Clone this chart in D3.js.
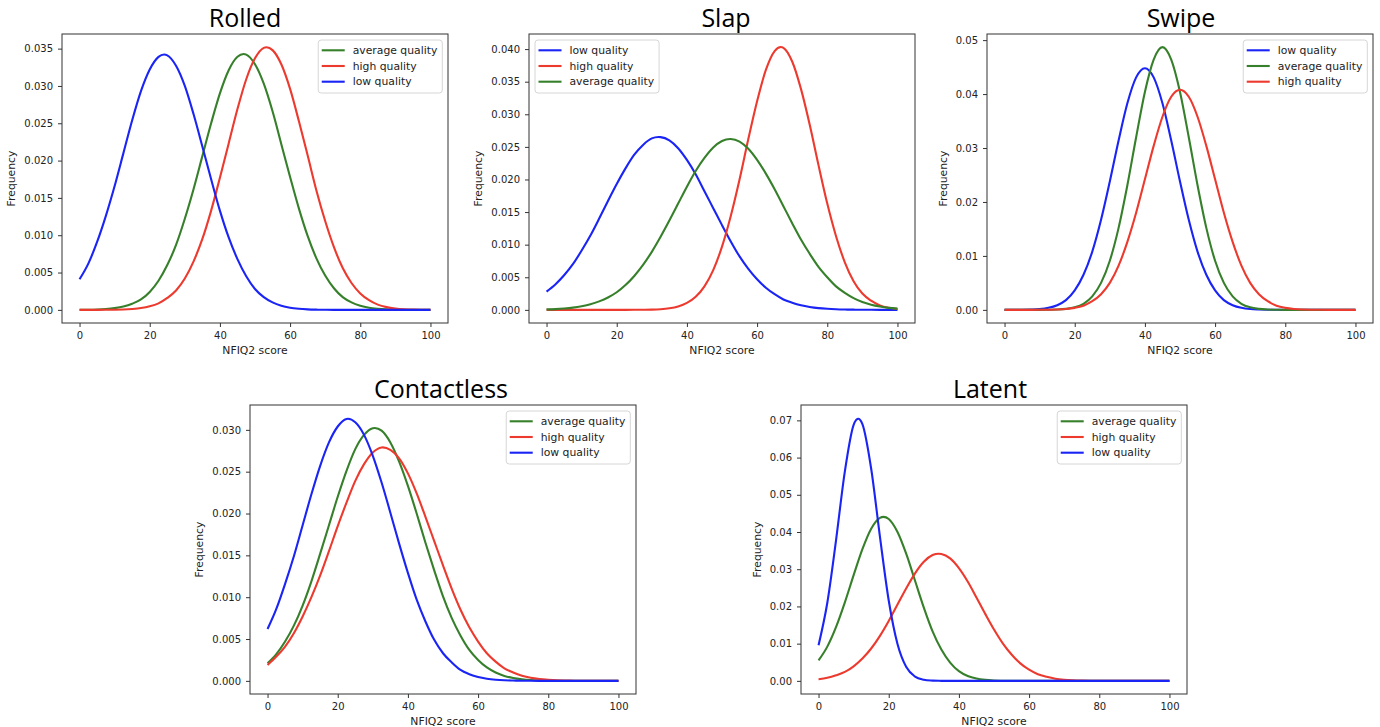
<!DOCTYPE html>
<html>
<head>
<meta charset="utf-8">
<script src="https://cdn.jsdelivr.net/npm/d3@7"></script>
<style>
  body { margin: 0; background: #fff; }
  svg text { font-family: "DejaVu Sans", sans-serif; fill: #222; }
</style>
</head>
<body>
<svg id="chart" width="1380" height="727"></svg>
<script>
// NFIQ2 score grid (x values shared by every curve)
var scores = [0,2.5,5,7.5,10,12.5,15,17.5,20,22.5,25,27.5,30,32.5,35,37.5,40,42.5,45,47.5,
  50,52.5,55,57.5,60,62.5,65,67.5,70,72.5,75,77.5,80,82.5,85,87.5,90,92.5,95,97.5,100];
var xTicks = [0, 20, 40, 60, 80, 100];

// frequency values, one array per curve
var rolledLow = [0.0041,0.0062,0.0091,0.0126,0.0166,0.0210,0.0254,0.0293,0.0322,0.0339,0.0341,0.0327,0.0300,0.0262,0.0219,0.0175,0.0133,0.0097,0.0068,0.0045,0.0028,0.0017,0.0010,0.00055,0.00029,0.00015,0.00007,0.00003,0.00001,0,0,0,0,0,0,0,0,0,0,0,0];
var rolledAverage = [0.00001,0.00002,0.00005,0.00011,0.00023,0.00044,0.00082,0.0014,0.0024,0.0039,0.0060,0.0087,0.0122,0.0162,0.0206,0.0250,0.0290,0.0321,0.0339,0.0342,0.0329,0.0303,0.0266,0.0222,0.0178,0.0136,0.0099,0.0069,0.0046,0.0029,0.0017,0.0010,0.00056,0.00029,0.00015,0.00007,0.00003,0.00001,0,0,0];
var rolledHigh = [0,0,0,0.00001,0.00002,0.00005,0.00012,0.00024,0.00047,0.00087,0.0016,0.0026,0.0042,0.0065,0.0095,0.0133,0.0177,0.0223,0.0269,0.0309,0.0337,0.0351,0.0348,0.0329,0.0296,0.0253,0.0207,0.0160,0.0119,0.0084,0.0056,0.0036,0.0022,0.0013,0.00070,0.00037,0.00019,0.00009,0.00004,0.00002,0.00001];

var slapLow = [0.0028,0.0039,0.0053,0.0070,0.0091,0.0114,0.0140,0.0167,0.0193,0.0217,0.0238,0.0253,0.0263,0.0265,0.0260,0.0248,0.0230,0.0208,0.0182,0.0156,0.0130,0.0105,0.0082,0.0063,0.0047,0.0034,0.0024,0.0016,0.0011,0.00071,0.00045,0.00027,0.00016,0.00009,0.00005,0.00003,0.00002,0.00001,0,0,0];
var slapAverage = [0.00007,0.00012,0.00021,0.00034,0.00055,0.00085,0.0013,0.0019,0.0027,0.0038,0.0052,0.0069,0.0089,0.0112,0.0137,0.0163,0.0189,0.0213,0.0233,0.0249,0.0259,0.0262,0.0258,0.0247,0.0230,0.0209,0.0185,0.0159,0.0133,0.0108,0.0086,0.0066,0.0050,0.0036,0.0026,0.0018,0.0012,0.00079,0.00051,0.00031,0.00019];
var slapHigh = [0,0,0,0,0,0,0,0,0,0,0.00001,0.00002,0.00004,0.00010,0.00024,0.00052,0.00106,0.0020,0.0036,0.0061,0.0097,0.0144,0.0200,0.0262,0.0320,0.0368,0.0397,0.0402,0.0381,0.0339,0.0284,0.0222,0.0163,0.0113,0.0073,0.0044,0.0025,0.0014,0.00068,0.00032,0.00014];

var swipeLow = [0,0.00001,0.00002,0.00006,0.00015,0.00038,0.00087,0.0018,0.0036,0.0065,0.0108,0.0167,0.0238,0.0314,0.0383,0.0431,0.0448,0.0431,0.0383,0.0314,0.0238,0.0167,0.0108,0.0065,0.0036,0.0018,0.00087,0.00038,0.00015,0.00006,0.00002,0.00001,0,0,0,0,0,0,0,0,0];
var swipeAverage = [0,0,0,0,0,0.00002,0.00006,0.00018,0.00047,0.00113,0.0025,0.0050,0.0091,0.0152,0.0231,0.0320,0.0404,0.0464,0.0487,0.0464,0.0404,0.0320,0.0231,0.0152,0.0091,0.0050,0.0025,0.00113,0.00047,0.00018,0.00006,0.00002,0,0,0,0,0,0,0,0,0];
var swipeHigh = [0,0,0,0,0.00001,0.00003,0.00007,0.00016,0.00037,0.00078,0.0016,0.0029,0.0050,0.0082,0.0126,0.0180,0.0242,0.0304,0.0358,0.0395,0.0408,0.0395,0.0358,0.0304,0.0242,0.0180,0.0126,0.0082,0.0050,0.0029,0.0016,0.00078,0.00037,0.00016,0.00007,0.00003,0.00001,0,0,0,0];

var contactlessLow = [0.0062,0.0086,0.0116,0.0149,0.0186,0.0223,0.0257,0.0285,0.0304,0.0313,0.0309,0.0294,0.0269,0.0237,0.0201,0.0164,0.0129,0.0097,0.0071,0.0049,0.0033,0.0022,0.0013,0.00080,0.00046,0.00026,0.00014,0.00007,0.00004,0.00002,0.00001,0,0,0,0,0,0,0,0,0,0];
var contactlessAverage = [0.0021,0.0032,0.0047,0.0066,0.0090,0.0119,0.0152,0.0186,0.0220,0.0251,0.0277,0.0294,0.0302,0.0299,0.0285,0.0262,0.0233,0.0200,0.0165,0.0132,0.0101,0.0075,0.0054,0.0037,0.0025,0.0016,0.0010,0.00059,0.00034,0.00019,0.00010,0.00005,0.00003,0.00001,0,0,0,0,0,0,0];
var contactlessHigh = [0.0019,0.0029,0.0041,0.0057,0.0077,0.0100,0.0126,0.0155,0.0185,0.0213,0.0239,0.0259,0.0273,0.0279,0.0276,0.0266,0.0248,0.0224,0.0196,0.0167,0.0138,0.0110,0.0085,0.0064,0.0047,0.0033,0.0023,0.0015,0.0010,0.00062,0.00037,0.00022,0.00013,0.00007,0.00004,0.00002,0.00001,0,0,0,0];

var latentLow = [0.0096,0.0210,0.0379,0.0563,0.0688,0.0690,0.0570,0.0387,0.0216,0.0099,0.0037,0.00116,0.00030,0.00006,0.00001,0,0,0,0,0,0,0,0,0,0,0,0,0,0,0,0,0,0,0,0,0,0,0,0,0,0];
var latentAverage = [0.0055,0.0092,0.0145,0.0211,0.0284,0.0354,0.0409,0.0438,0.0435,0.0400,0.0341,0.0269,0.0197,0.0133,0.0084,0.0049,0.0026,0.0013,0.00061,0.00026,0.00010,0.00004,0.00001,0,0,0,0,0,0,0,0,0,0,0,0,0,0,0,0,0,0];
var latentHigh = [0.00045,0.00083,0.0015,0.0024,0.0039,0.0060,0.0087,0.0121,0.0161,0.0205,0.0249,0.0289,0.0320,0.0338,0.0341,0.0329,0.0303,0.0267,0.0224,0.0180,0.0138,0.0101,0.0071,0.0047,0.0030,0.0018,0.0011,0.00059,0.00031,0.00016,0.00008,0.00004,0.00002,0.00001,0,0,0,0,0,0,0];

// y tick labels and curve peaks per panel
var rolledTicks = [0, 0.005, 0.010, 0.015, 0.020, 0.025, 0.030, 0.035];
var slapTicks = [0, 0.005, 0.010, 0.015, 0.020, 0.025, 0.030, 0.035, 0.040];
var swipeTicks = [0, 0.01, 0.02, 0.03, 0.04, 0.05];
var contactlessTicks = [0, 0.005, 0.010, 0.015, 0.020, 0.025, 0.030];
var latentTicks = [0, 0.01, 0.02, 0.03, 0.04, 0.05, 0.06, 0.07];
var peaks = [0.0352, 0.0403, 0.0487, 0.0314, 0.0706];

var colors = { low: "#1a24f5", high: "#ec3a2f", average: "#37802b" };

var panels = [
  { title: "Rolled", left: 62, top: 34, dx: -10, ticks: rolledTicks, fmt: ".3f", legend: "right",
    series: [["average", rolledAverage], ["high", rolledHigh], ["low", rolledLow]] },
  { title: "Slap", left: 529, top: 34, dx: 4, ticks: slapTicks, fmt: ".3f", legend: "left",
    series: [["low", slapLow], ["high", slapHigh], ["average", slapAverage]] },
  { title: "Swipe", left: 987, top: 34, dx: 1, ticks: swipeTicks, fmt: ".2f", legend: "right",
    series: [["low", swipeLow], ["average", swipeAverage], ["high", swipeHigh]] },
  { title: "Contactless", left: 250, top: 405, dx: -2, ticks: contactlessTicks, fmt: ".3f", legend: "right",
    series: [["average", contactlessAverage], ["high", contactlessHigh], ["low", contactlessLow]] },
  { title: "Latent", left: 801, top: 405, dx: -4, ticks: latentTicks, fmt: ".2f", legend: "right",
    series: [["average", latentAverage], ["high", latentHigh], ["low", latentLow]] }
];

var W = 386, H = 289;
var svg = d3.select("#chart");
svg.append("rect").attr("width", 1380).attr("height", 727).attr("fill", "#fff");

panels.forEach(function (p, pi) {
  var g = svg.append("g").attr("transform", "translate(" + p.left + "," + p.top + ")");

  var x = d3.scaleLinear().domain([-5, 105]).range([0, W]);
  var m = peaks[pi];
  var y = d3.scaleLinear().domain([-0.05 * m, 1.05 * m]).range([H, 0]);

  // axes
  var xa = g.append("g").attr("transform", "translate(0," + H + ")")
    .call(d3.axisBottom(x).tickValues(xTicks).tickSize(4).tickPadding(5));
  var ya = g.append("g")
    .call(d3.axisLeft(y).tickValues(p.ticks).tickSize(4).tickPadding(5).tickFormat(d3.format(p.fmt)));
  [xa, ya].forEach(function (a) {
    a.select(".domain").remove();
    a.attr("font-family", null).attr("font-size", 10);
    a.selectAll(".tick line").attr("stroke", "#333");
    a.selectAll(".tick text").attr("fill", "#222");
  });

  // curves
  var line = d3.line()
    .x(function (d, i) { return x(scores[i]); })
    .y(function (d) { return y(d); })
    .curve(d3.curveCatmullRom.alpha(0));

  g.selectAll("path.curve")
    .data(p.series)
    .enter()
    .append("path")
    .attr("class", "curve")
    .attr("fill", "none")
    .attr("stroke", function (d) { return colors[d[0]]; })
    .attr("stroke-width", 2.1)
    .attr("d", function (d) { return line(d[1]); });

  // frame
  g.append("rect").attr("width", W).attr("height", H)
    .attr("fill", "none").attr("stroke", "#333").attr("stroke-width", 1);

  // labels
  g.append("text").attr("x", W / 2).attr("y", H + 31)
    .attr("text-anchor", "middle").attr("font-size", 10.8).text("NFIQ2 score");

  var bx = ya.node().getBBox().x;
  g.append("text")
    .attr("transform", "translate(" + (bx - 9) + "," + (H / 2) + ") rotate(-90)")
    .attr("text-anchor", "middle").attr("font-size", 10.8).text("Frequency");

  g.append("text").attr("x", W / 2 + p.dx).attr("y", -7)
    .attr("text-anchor", "middle")
    .style("font-family", "'Open Sans', sans-serif")
    .style("font-weight", 500)
    .style("fill", "#000")
    .attr("font-size", 25).text(p.title);

  // legend
  var lg = g.append("g");
  var rows = lg.selectAll("g.row")
    .data(p.series)
    .enter()
    .append("g")
    .attr("class", "row")
    .attr("transform", function (d, i) { return "translate(0," + (10.3 + i * 15.7) + ")"; });
  rows.append("line")
    .attr("x1", 3.5).attr("x2", 26.5)
    .attr("stroke", function (d) { return colors[d[0]]; })
    .attr("stroke-width", 2.1);
  rows.append("text")
    .attr("x", 34.5).attr("dy", "0.35em").attr("font-size", 10.8)
    .text(function (d) { return d[0] + " quality"; });

  var tw = d3.max(rows.selectAll("text").nodes(), function (n) { return n.getComputedTextLength(); });
  var bw = 34.5 + tw + 5, bh = 53;
  lg.insert("rect", ":first-child")
    .attr("width", bw).attr("height", bh).attr("rx", 3)
    .attr("fill", "#fff").attr("fill-opacity", 0.8)
    .attr("stroke", "#d6d6d6").attr("stroke-width", 1);
  var lx = p.legend === "right" ? W - 5.7 - bw : 6;
  lg.attr("transform", "translate(" + lx + ",6)");
});
</script>
</body>
</html>
